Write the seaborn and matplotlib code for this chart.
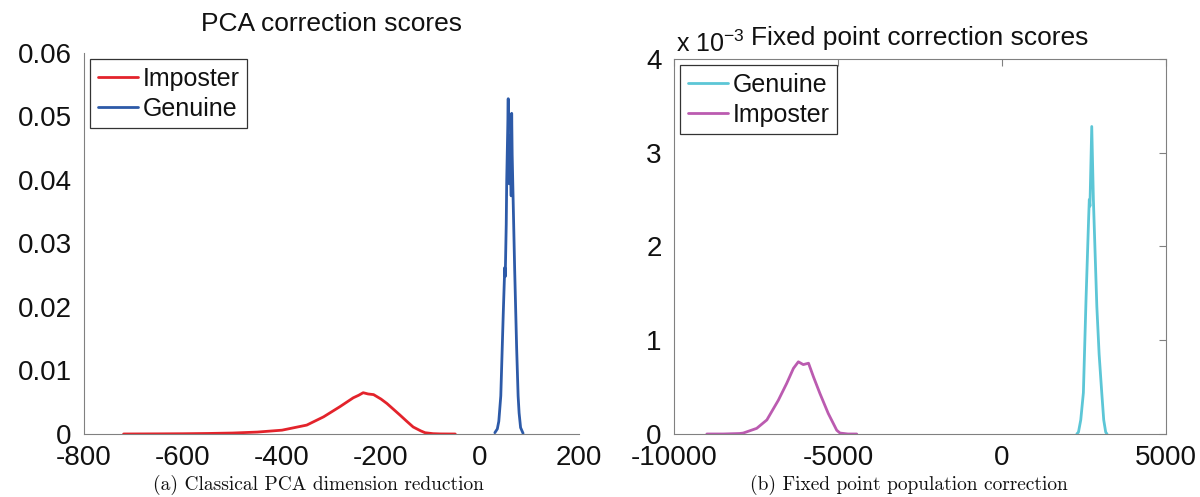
import pandas as pd
import matplotlib.pyplot as plt
import seaborn as sns

# --- data ---
# (a) PCA correction scores
pca_imp_x = [-720, -650, -600, -550, -500, -450, -400, -350, -316, -283, -256, -245,
             -236, -226, -215, -200, -188, -175, -162, -148, -135, -120, -111, -95, -80, -60, -50]
pca_imp_y = [0.0, 0.00002, 0.00004, 0.00008, 0.00015, 0.0003, 0.0006, 0.0014, 0.0027, 0.0043,
             0.0057, 0.0061, 0.0065, 0.0063, 0.0062, 0.0055, 0.0048, 0.0039, 0.0030, 0.0020,
             0.0011, 0.0005, 0.0002, 0.00005, 0.00001, 0.0, 0.0]
pca_gen_x = [30, 35, 38, 42, 47, 50, 51, 53, 54, 56, 57, 58, 59, 61, 63, 64, 65, 67, 70, 74, 77, 79, 82, 87]
pca_gen_y = [0.0002, 0.0008, 0.0020, 0.0060, 0.0190, 0.0262, 0.0248, 0.0330, 0.0400, 0.0480,
             0.0528, 0.0440, 0.0394, 0.0470, 0.0375, 0.0505, 0.0440, 0.0367, 0.0260, 0.0136,
             0.0060, 0.0033, 0.0010, 0.0001]

# (b) Fixed point correction scores (units of 1e-3)
fp_gen_x = [2280, 2330, 2400, 2480, 2560, 2640, 2660, 2680, 2735, 2785, 2840, 2890, 2960, 3040, 3100, 3160, 3200]
fp_gen_y = [0.0, 0.02, 0.15, 0.44, 1.43, 2.30, 2.50, 2.43, 3.28, 2.50, 1.90, 1.36, 0.85, 0.44, 0.15, 0.02, 0.0]
fp_imp_x = [-9000, -8500, -8000, -7890, -7480, -7170, -6820, -6565, -6360, -6210, -6060, -5900,
            -5750, -5550, -5300, -5040, -4940, -4700, -4430]
fp_imp_y = [0.0, 0.0, 0.005, 0.01, 0.06, 0.15, 0.36, 0.54, 0.70, 0.77, 0.74, 0.755,
            0.61, 0.43, 0.22, 0.04, 0.01, 0.0, 0.0]

pca_xticks = [-800, -600, -400, -200, 0, 200]
pca_yticks = [0, 0.01, 0.02, 0.03, 0.04, 0.05, 0.06]
pca_ylabels = ['0', '0.01', '0.02', '0.03', '0.04', '0.05', '0.06']
fp_xticks = [-10000, -5000, 0, 5000]
fp_yticks = [0, 1, 2, 3, 4]
fp_ylabels = ['0', '1', '2', '3', '4']

colors = {'Imposter': '#e3232b', 'Genuine': '#2d5aa8'}
colors_fp = {'Genuine': '#5cc6d6', 'Imposter': '#bb5bb0'}

df_pca = pd.concat([
    pd.DataFrame({'score': pca_imp_x, 'density': pca_imp_y, 'class': 'Imposter'}),
    pd.DataFrame({'score': pca_gen_x, 'density': pca_gen_y, 'class': 'Genuine'}),
])
df_fp = pd.concat([
    pd.DataFrame({'score': fp_gen_x, 'density': fp_gen_y, 'class': 'Genuine'}),
    pd.DataFrame({'score': fp_imp_x, 'density': fp_imp_y, 'class': 'Imposter'}),
])

# --- style ---
sns.set_style("white")
plt.rcParams['font.family'] = ['Liberation Sans', 'DejaVu Sans']
plt.rcParams['axes.unicode_minus'] = False
plt.rcParams['text.color'] = '#111111'

spine_col = '#808080'
tick_fs = 20

fig = plt.figure(figsize=(12, 4.97), dpi=100)
ax1 = fig.add_axes([0.07, 0.1268, 0.4125, 0.7666])
ax2 = fig.add_axes([0.5617, 0.1268, 0.41, 0.7545])

sns.lineplot(data=df_pca, x='score', y='density', hue='class', hue_order=['Imposter', 'Genuine'],
             palette=colors, linewidth=2, estimator=None, ax=ax1)
sns.lineplot(data=df_fp, x='score', y='density', hue='class', hue_order=['Genuine', 'Imposter'],
             palette=colors_fp, linewidth=2, estimator=None, ax=ax2)

# left panel: box off
ax1.set_xlim(-800, 200)
ax1.set_ylim(0, 0.06)
ax1.set_xticks(pca_xticks)
ax1.set_xticklabels([str(v) for v in pca_xticks])
ax1.set_yticks(pca_yticks)
ax1.set_yticklabels(pca_ylabels)
sns.despine(ax=ax1)
ax1.set_title('PCA correction scores', fontsize=19, pad=16, color='#111111')

# right panel: full box
ax2.set_xlim(-10000, 5000)
ax2.set_ylim(0, 4)
ax2.set_xticks(fp_xticks)
ax2.set_xticklabels([str(v) for v in fp_xticks])
ax2.set_yticks(fp_yticks)
ax2.set_yticklabels(fp_ylabels)
ax2.tick_params(top=True, right=True)
ax2.set_title('Fixed point correction scores', fontsize=19, pad=10, color='#111111')
ax2.text(0.005, 1.005, r'x 10$^{\mathregular{-3}}$', transform=ax2.transAxes,
         fontsize=18, ha='left', va='bottom')

for ax in (ax1, ax2):
    ax.set_xlabel('')
    ax.set_ylabel('')
    ax.tick_params(direction='in', length=5, width=0.8, color=spine_col,
                   labelsize=tick_fs, labelcolor='#111111')
    ax.tick_params(axis='y', pad=9)
    ax.tick_params(axis='x', pad=8)
    for s in ax.spines.values():
        s.set_color(spine_col)
        s.set_linewidth(0.8)
    leg = ax.legend(loc='upper left', fontsize=18, frameon=True, fancybox=False,
                    edgecolor='#333333', framealpha=1, handlelength=1.6,
                    handletextpad=0.2, labelspacing=0.25, borderpad=0.3,
                    borderaxespad=0.25, title=None)
    leg.get_frame().set_linewidth(0.9)

# captions
fig.text(0.265, 0.024, '(a) Classical PCA dimension reduction', family=['cmr10', 'DejaVu Serif'],
         fontsize=14, ha='center', va='center')
fig.text(0.757, 0.024, '(b) Fixed point population correction', family=['cmr10', 'DejaVu Serif'],
         fontsize=14, ha='center', va='center')

fig.savefig('out.png', dpi=100)
